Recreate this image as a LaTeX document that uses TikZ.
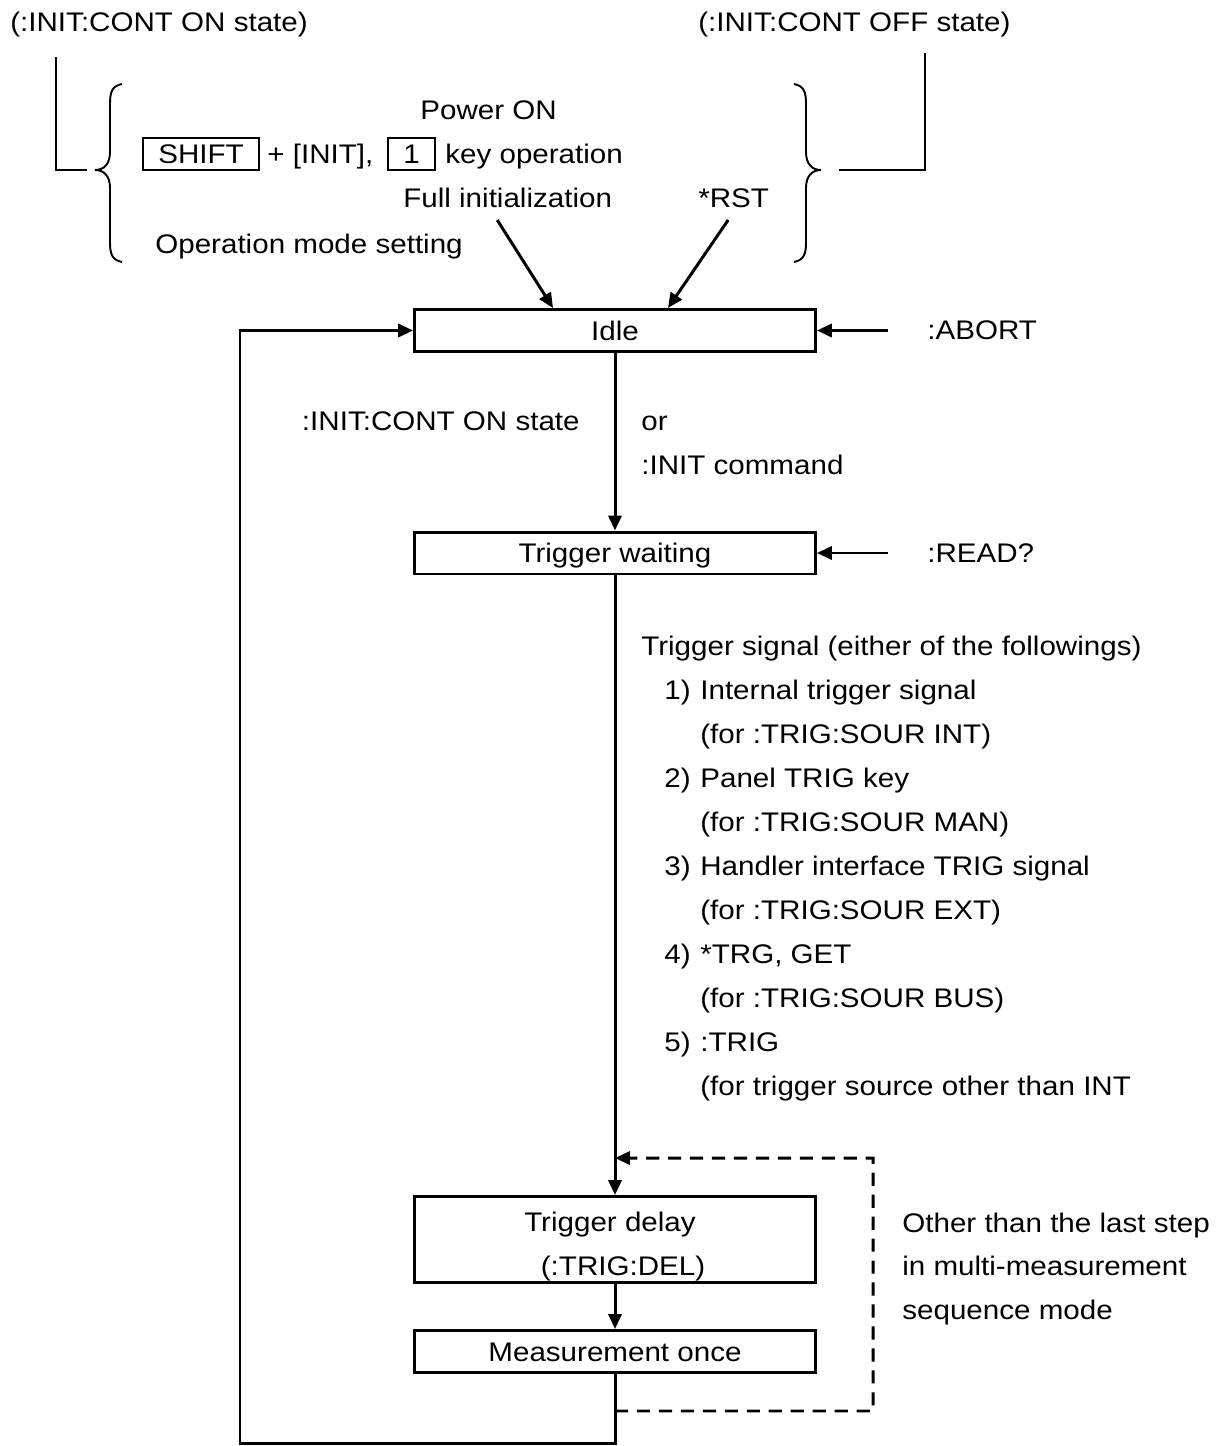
\documentclass[tikz,border=0pt]{standalone}
\usepackage{fontspec}
\setmainfont{Liberation Sans}[FakeStretch=1.1]
\usetikzlibrary{arrows.meta}

\begin{document}
\begin{tikzpicture}[x=0.02cm, y=-0.02cm, font=\fontsize{15.3}{25}\selectfont]
        \tikzstyle{stbox} = [draw, rectangle, line width=1.7pt, minimum width=8.02cm, minimum height=0.84cm, inner sep=0pt]
        \tikzstyle{onebox} = [stbox, text height=11pt, text depth=0pt]
        \tikzstyle{keybox} = [draw, rectangle, line width=1.1pt, minimum height=0.64cm, inner sep=0pt, text height=11pt, text depth=0pt]
        \tikzstyle{txt} = [anchor=base west, inner sep=0pt]
        \tikzstyle{arr} = [line width=1.7pt, -{Triangle[length=8.5pt, width=7.5pt]}]
        \tikzstyle{bracket} = [line width=1.1pt]
        \useasboundingbox (0,0) rectangle (1223,1446);

        % header and the brace group
        \node (onst) [txt] at (10,32) {(:INIT:CONT ON state)};
        \node (offst) [txt] at (698,32) {(:INIT:CONT OFF state)};
        \node (pwron) [txt] at (420,120) {Power ON};
        \node (shiftkey) [keybox, minimum width=2.32cm] at (201,154) {SHIFT};
        \node (plusinit) [txt] at (267,164) {+ [INIT],};
        \node (onekey) [keybox, minimum width=0.94cm] at (411.5,154) {1};
        \node (keyop) [txt] at (445,164) {key operation};
        \node (fullinit) [txt] at (403,208) {Full initialization};
        \node (rst) [txt] at (698,208) {*RST};
        \node (opmode) [txt] at (155,254) {Operation mode setting};

        \draw[bracket] (56,57) |- (87,170);
        \draw[bracket] (839,170) -| (925,53);
        \draw[bracket] (122,84) .. controls (112,86) and (110,92) .. (110,104) -- (110,152)
            .. controls (110,164) and (104,170) .. (95,170)
            .. controls (104,170) and (110,176) .. (110,188) -- (110,242)
            .. controls (110,254) and (112,260) .. (122,262);
        \draw[bracket] (794,84) .. controls (804,86) and (806,92) .. (806,104) -- (806,152)
            .. controls (806,164) and (812,170) .. (821,170)
            .. controls (812,170) and (806,176) .. (806,188) -- (806,242)
            .. controls (806,254) and (804,260) .. (794,262);

        % states
        \node (idle) [onebox] at (615,330.5) {Idle};
        \node (twait) [onebox] at (615,553) {Trigger waiting};
        \node (tdelay) [stbox, minimum height=1.72cm] at (615,1239.5) {};
        \node (tdelay1) [txt, anchor=base] at (610,1231) {Trigger delay};
        \node (tdelay2) [txt, anchor=base] at (623,1275) {(:TRIG:DEL)};
        \node (meas) [onebox] at (615,1351.5) {Measurement once};

        \node (abort) [txt, anchor=west] at (927,330.5) {:ABORT};
        \node (readq) [txt, anchor=west] at (927,553) {:READ?};
        \node (conton) [txt, anchor=base east] at (580,430) {:INIT:CONT ON state};
        \node (ortxt) [txt] at (641,430) {or};
        \node (initcmd) [txt] at (641,474) {:INIT command};

        \node (tsig) [txt] at (641,655) {Trigger signal (either of the followings)};
        \foreach \num/\main/\sub [count=\i from 0] in {1/Internal trigger signal/{(for :TRIG:SOUR INT)},
                2/Panel TRIG key/{(for :TRIG:SOUR MAN)}, 3/Handler interface TRIG signal/{(for :TRIG:SOUR EXT)},
                4/{*TRG, GET}/{(for :TRIG:SOUR BUS)}, 5/:TRIG/{(for trigger source other than INT}} {
            \node (num\num) [txt] at (664,699+88*\i) {\num)};
            \node (item\num) [txt] at (700,699+88*\i) {\main};
            \node (sub\num) [txt] at (700,743+88*\i) {\sub};
        }

        \node (othr1) [txt] at (902,1232) {Other than the last step};
        \node (othr2) [txt] at (902,1275) {in multi-measurement};
        \node (othr3) [txt] at (902,1319) {sequence mode};

        % connectors
        \draw[arr] ([xshift=-0.21cm,yshift=-0.24cm]fullinit.base) -- ([xshift=-1.24cm]idle.north);
        \draw[arr] ([xshift=-0.11cm,yshift=-0.24cm]rst.base) -- ([xshift=1.06cm]idle.north);
        \draw[arr] ([xshift=-0.78cm]abort.west) -- (idle.east);
        \draw[arr] ([xshift=-0.78cm]readq.west) -- (twait.east);
        \draw[arr] (idle) -- (twait);
        \draw[arr] (twait) -- (tdelay);
        \draw[arr] (tdelay) -- (meas);

        \coordinate (loopcorner) at (240,1443);
        \draw[arr] (meas.south) |- (loopcorner) |- (idle.west);

        \coordinate (dstart) at ([yshift=-0.74cm]meas.south);
        \coordinate (dcorner) at (873,1158);
        \coordinate (dend) at ([yshift=0.74cm]tdelay.north);
        \draw[arr, dash pattern=on 7.5pt off 5pt] (dstart) -| (dcorner) -- (dend);
    \end{tikzpicture}
\end{document}
